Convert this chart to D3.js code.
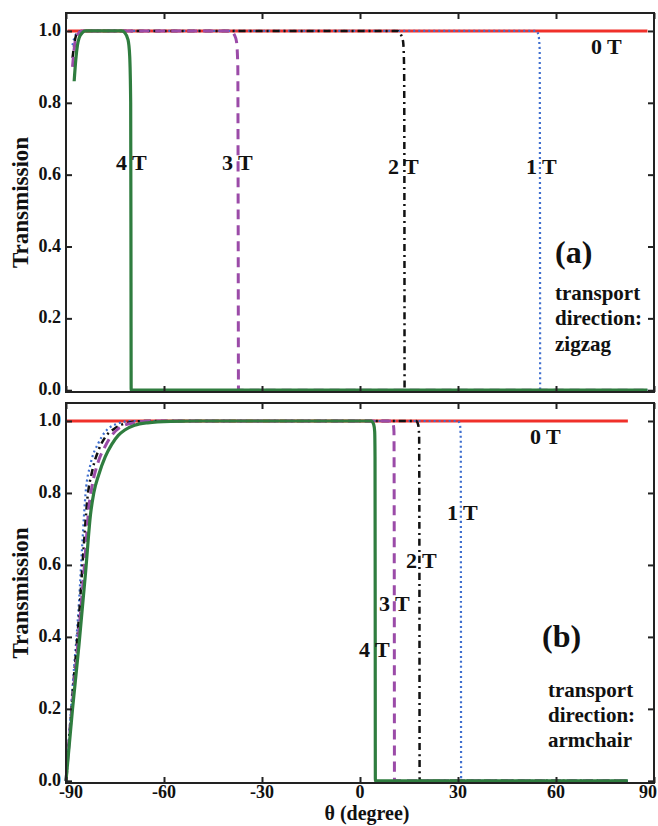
<!DOCTYPE html>
<html>
<head>
<meta charset="utf-8">
<script src="https://cdn.jsdelivr.net/npm/d3@7"></script>
<style>
  body { margin: 0; background: #fff; }
  text { font-family: "Liberation Serif", "Times New Roman", serif; font-weight: bold; fill: #111; }
</style>
</head>
<body>
<svg id="chart" width="658" height="826"></svg>
<script>
// x ticks (degree) and y ticks (transmission)
var xTicks = [-90, -60, -30, 0, 30, 60, 90];
var yTicks = [0, 0.2, 0.4, 0.6, 0.8, 1.0];

// (a) zigzag, [theta, T]
var zz0T = [[-89.5, 1], [88, 1]];
var zz1T = [[-88, 0.96], [-87.5, 0.98], [-87, 0.99], [-86, 0.998], [-85, 1], [54, 1], [54.6, 0.99], [55, 0.95], [55.1, 0.5], [55.15, 0], [88, 0]];
var zz2T = [[-88, 0.925], [-87.5, 0.96], [-87, 0.985], [-86, 0.997], [-85, 1], [11.5, 1], [12.5, 0.99], [13.2, 0.97], [13.5, 0.9], [13.6, 0.5], [13.65, 0], [88, 0]];
var zz3T = [[-88, 0.9], [-87.5, 0.95], [-87, 0.98], [-86, 0.995], [-85, 1], [-39.5, 1], [-38.5, 0.99], [-37.8, 0.97], [-37.4, 0.9], [-37.3, 0.5], [-37.2, 0], [88, 0]];
var zz4T = [[-87.5, 0.86], [-87, 0.92], [-86.5, 0.96], [-86, 0.98], [-85, 0.995], [-84, 1], [-73, 1], [-72, 0.995], [-71, 0.975], [-70.5, 0.93], [-70.2, 0.8], [-70.1, 0.3], [-70.05, 0], [88, 0]];

// (b) armchair, [theta, T]
var ac0T = [[-90, 1], [82, 1]];
var ac1T = [[-90, 0], [-88, 0.26], [-86, 0.5], [-85, 0.66], [-84, 0.8], [-82.5, 0.88], [-80, 0.94], [-78, 0.97], [-75, 0.99], [-70, 1], [30, 1], [30.6, 0.99], [30.85, 0.95], [30.9, 0.5], [30.95, 0], [82, 0]];
var ac2T = [[-90, 0], [-88, 0.24], [-86, 0.46], [-84.5, 0.66], [-83.5, 0.78], [-82, 0.86], [-80, 0.92], [-78, 0.955], [-75, 0.98], [-71, 0.995], [-66, 1], [17.2, 1], [17.8, 0.99], [18.1, 0.96], [18.2, 0.5], [18.25, 0], [82, 0]];
var ac3T = [[-90, 0], [-88, 0.22], [-86, 0.42], [-84, 0.64], [-83, 0.76], [-82, 0.82], [-80, 0.89], [-78, 0.93], [-76, 0.96], [-73, 0.985], [-69, 0.995], [-64, 1], [9.8, 1], [10.2, 0.99], [10.4, 0.97], [10.5, 0.5], [10.55, 0], [82, 0]];
var ac4T = [[-90, 0], [-88, 0.2], [-86, 0.38], [-84, 0.58], [-82.5, 0.74], [-81.5, 0.8], [-80, 0.85], [-78, 0.9], [-76, 0.935], [-74, 0.96], [-72, 0.975], [-69, 0.988], [-65, 0.995], [-58, 0.999], [-50, 1], [3.5, 1], [4.2, 0.99], [4.5, 0.97], [4.6, 0.9], [4.65, 0.5], [4.7, 0], [82, 0]];

var svg = d3.select("#chart");
var left = 66, right = 654;

var x = d3.scaleLinear().domain([-90, 90]).range([left, right]);

var styles = {
  red:    { color: "#f0302a", width: 3, dash: null },
  blue:   { color: "#3f6fcf", width: 2.2, dash: "2,3" },
  black:  { color: "#111111", width: 2.5, dash: "7,4,2,4" },
  purple: { color: "#9b4ba8", width: 3, dash: "10,6" },
  green:  { color: "#2f7d3f", width: 3.2, dash: null }
};

function panel(top, bottom, yMin, series, showX) {
  var y = d3.scaleLinear().domain([yMin, 1.05]).range([bottom, top]);
  var g = svg.append("g");

  var line = d3.line()
    .x(function(d) { return x(d[0]); })
    .y(function(d) { return y(d[1]); })
    .curve(d3.curveMonotoneX);

  series.forEach(function(s) {
    var st = styles[s.style];
    g.append("path")
      .attr("d", line(s.data))
      .attr("fill", "none")
      .attr("stroke", st.color)
      .attr("stroke-width", st.width)
      .attr("stroke-dasharray", st.dash);
  });

  // frame
  g.append("rect").attr("x", left).attr("y", top)
    .attr("width", right - left).attr("height", bottom - top)
    .attr("fill", "none").attr("stroke", "#222").attr("stroke-width", 2);

  // inward ticks on all sides
  var tl = 6;
  g.append("g").attr("transform", "translate(0," + bottom + ")")
    .call(d3.axisBottom(x).tickValues(xTicks).tickSizeInner(-tl).tickSizeOuter(0).tickFormat(""));
  g.append("g").attr("transform", "translate(0," + top + ")")
    .call(d3.axisTop(x).tickValues(xTicks).tickSizeInner(-tl).tickSizeOuter(0).tickFormat(""));
  g.append("g").attr("transform", "translate(" + left + ",0)")
    .call(d3.axisLeft(y).tickValues(yTicks).tickSizeInner(-tl).tickSizeOuter(0).tickFormat(""));
  g.append("g").attr("transform", "translate(" + right + ",0)")
    .call(d3.axisRight(y).tickValues(yTicks).tickSizeInner(-tl).tickSizeOuter(0).tickFormat(""));
  g.selectAll(".domain").remove();
  g.selectAll(".tick line").attr("stroke", "#222").attr("stroke-width", 2);

  // y tick labels
  g.selectAll(".ylab").data(yTicks).enter().append("text")
    .attr("x", left - 5).attr("y", function(d) { return y(d) + 5; })
    .attr("text-anchor", "end").attr("font-size", 18)
    .text(function(d) { return d.toFixed(1); });

  if (showX) {
    g.selectAll(".xlab").data(xTicks).enter().append("text")
      .attr("x", function(d) {
        if (d === 90) return x(d) - 6;
        if (d === -90) return x(d) + 5;
        return x(d);
      })
      .attr("y", bottom + 15)
      .attr("text-anchor", "middle").attr("font-size", 18)
      .text(function(d) { return d; });
  }

  g.append("text")
    .attr("transform", "translate(28," + ((top + bottom) / 2) + ") rotate(-90)")
    .attr("text-anchor", "middle").attr("font-size", 23)
    .text("Transmission");
  return g;
}

function label(g, px, py, txt, size) {
  g.append("text").attr("x", px).attr("y", py).attr("font-size", size || 22).text(txt);
}

var ga = panel(13, 392, -0.005, [
  { data: zz0T, style: "red" },
  { data: zz1T, style: "blue" },
  { data: zz2T, style: "black" },
  { data: zz3T, style: "purple" },
  { data: zz4T, style: "green" }
], false);

label(ga, 591, 54, "0 T");
label(ga, 116, 170, "4 T");
label(ga, 222, 170, "3 T");
label(ga, 388, 174, "2 T");
label(ga, 526, 174, "1 T");
label(ga, 555, 263, "(a)", 32);
label(ga, 555, 300, "transport", 21);
label(ga, 555, 325, "direction:", 21);
label(ga, 555, 351, "zigzag", 21);

var gb = panel(403, 783, -0.006, [
  { data: ac0T, style: "red" },
  { data: ac1T, style: "blue" },
  { data: ac2T, style: "black" },
  { data: ac3T, style: "purple" },
  { data: ac4T, style: "green" }
], true);

label(gb, 530, 444, "0 T");
label(gb, 447, 520, "1 T");
label(gb, 406, 568, "2 T");
label(gb, 379, 611, "3 T");
label(gb, 359, 657, "4 T");
label(gb, 542, 647, "(b)", 32);
label(gb, 548, 697, "transport", 21);
label(gb, 548, 722, "direction:", 21);
label(gb, 548, 747, "armchair", 21);

svg.append("text").attr("x", 367).attr("y", 820)
  .attr("text-anchor", "middle").attr("font-size", 20)
  .text("θ (degree)");
</script>
</body>
</html>
